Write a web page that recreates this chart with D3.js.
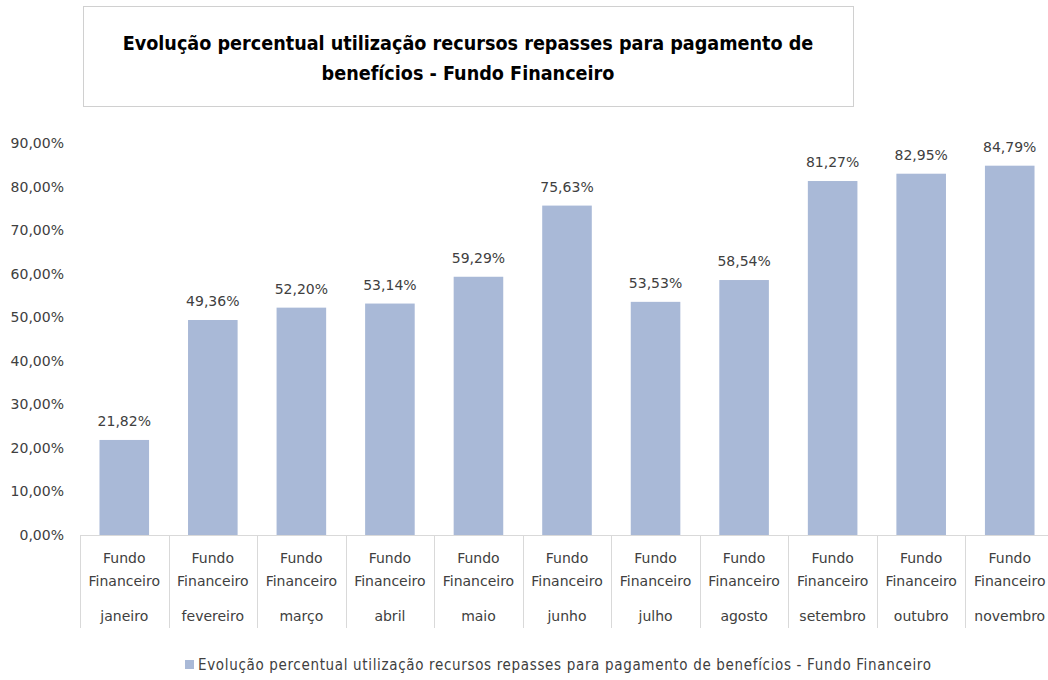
<!DOCTYPE html>
<html>
<head>
<meta charset="utf-8">
<script src="https://cdn.jsdelivr.net/npm/d3@7"></script>
<style>
  body { margin: 0; background: #fff; }
  text { font-family: "DejaVu Sans", sans-serif; }
</style>
</head>
<body>
<svg id="chart" width="1048" height="680"></svg>
<script>
const width = 1048, height = 680;

const months = ["janeiro", "fevereiro", "março", "abril", "maio", "junho",
                "julho", "agosto", "setembro", "outubro", "novembro"];
const values = [21.82, 49.36, 52.20, 53.14, 59.29, 75.63, 53.53, 58.54, 81.27, 82.95, 84.79];
const yTicks = [0, 10, 20, 30, 40, 50, 60, 70, 80, 90];
const titleLines = ["Evolução percentual utilização recursos repasses para pagamento de",
                    "benefícios - Fundo Financeiro"];
const seriesName = "Evolução percentual utilização recursos repasses para pagamento de benefícios - Fundo Financeiro";

const barColor = "#a9b9d7";
const textColor = "#404040";

const svg = d3.select("#chart");

const x = d3.scaleBand().domain(months).range([80, 1054]).paddingInner(0.44).paddingOuter(0.22);
const y = d3.scaleLinear().domain([0, 90]).range([535, 143]);

const fmt = v => v.toFixed(2).replace(".", ",") + "%";

// title box
svg.append("rect")
    .attr("x", 83.5).attr("y", 6.5)
    .attr("width", 770).attr("height", 100)
    .attr("fill", "#fff")
    .attr("stroke", "#d0d0d0");

svg.selectAll(".title")
    .data(titleLines)
  .enter().append("text")
    .attr("class", "title")
    .attr("x", 468)
    .attr("y", (d, i) => 50 + i * 30)
    .attr("text-anchor", "middle")
    .style("font-family", "'DejaVu Sans Condensed', sans-serif")
    .style("font-size", "19.6px")
    .style("font-weight", "bold")
    .attr("fill", "#000")
    .text(d => d);

// y axis labels (no line)
svg.append("g")
    .attr("transform", "translate(64,0)")
    .call(d3.axisLeft(y).tickValues(yTicks).tickSize(0).tickPadding(0).tickFormat(fmt))
    .call(g => g.select(".domain").remove())
    .call(g => g.selectAll("text")
        .attr("fill", textColor)
        .style("font-size", "14px")
        .style("font-family", null));

// bars
svg.selectAll(".bar")
    .data(values)
  .enter().append("rect")
    .attr("class", "bar")
    .attr("x", (d, i) => x(months[i]))
    .attr("y", d => y(d))
    .attr("width", x.bandwidth())
    .attr("height", d => y(0) - y(d))
    .attr("fill", barColor);

// data labels
svg.selectAll(".lbl")
    .data(values)
  .enter().append("text")
    .attr("class", "lbl")
    .attr("x", (d, i) => x(months[i]) + x.bandwidth() / 2)
    .attr("y", d => y(d) - 14)
    .attr("text-anchor", "middle")
    .attr("fill", textColor)
    .style("font-size", "14px")
    .text(d => fmt(d));

// category axis: base line and separators
const step = x.step();
const left = x.range()[0];
svg.append("line")
    .attr("x1", left).attr("x2", width)
    .attr("y1", 535.5).attr("y2", 535.5)
    .attr("stroke", "#d9d9d9");

svg.selectAll(".sep")
    .data(d3.range(months.length + 1))
  .enter().append("line")
    .attr("class", "sep")
    .attr("x1", i => Math.round(left + i * step) + 0.5)
    .attr("x2", i => Math.round(left + i * step) + 0.5)
    .attr("y1", 535).attr("y2", 628)
    .attr("stroke", "#d9d9d9");

const cat = svg.selectAll(".cat")
    .data(months)
  .enter().append("g")
    .attr("class", "cat")
    .attr("transform", d => `translate(${x(d) + x.bandwidth() / 2},0)`);

cat.append("text").attr("y", 563).text("Fundo");
cat.append("text").attr("y", 586).text("Financeiro");
cat.append("text").attr("y", 621).text(d => d);
cat.selectAll("text")
    .attr("text-anchor", "middle")
    .attr("fill", textColor)
    .style("font-size", "14px");

// legend
const legend = svg.append("g").attr("transform", "translate(185,660)");
legend.append("rect")
    .attr("width", 9).attr("height", 9)
    .attr("fill", barColor);
legend.append("text")
    .attr("x", 13).attr("y", 10)
    .attr("fill", textColor)
    .attr("textLength", 733)
    .attr("lengthAdjust", "spacing")
    .style("font-family", "'DejaVu Sans Condensed', sans-serif")
    .style("font-size", "15px")
    .text(seriesName);
</script>
</body>
</html>
